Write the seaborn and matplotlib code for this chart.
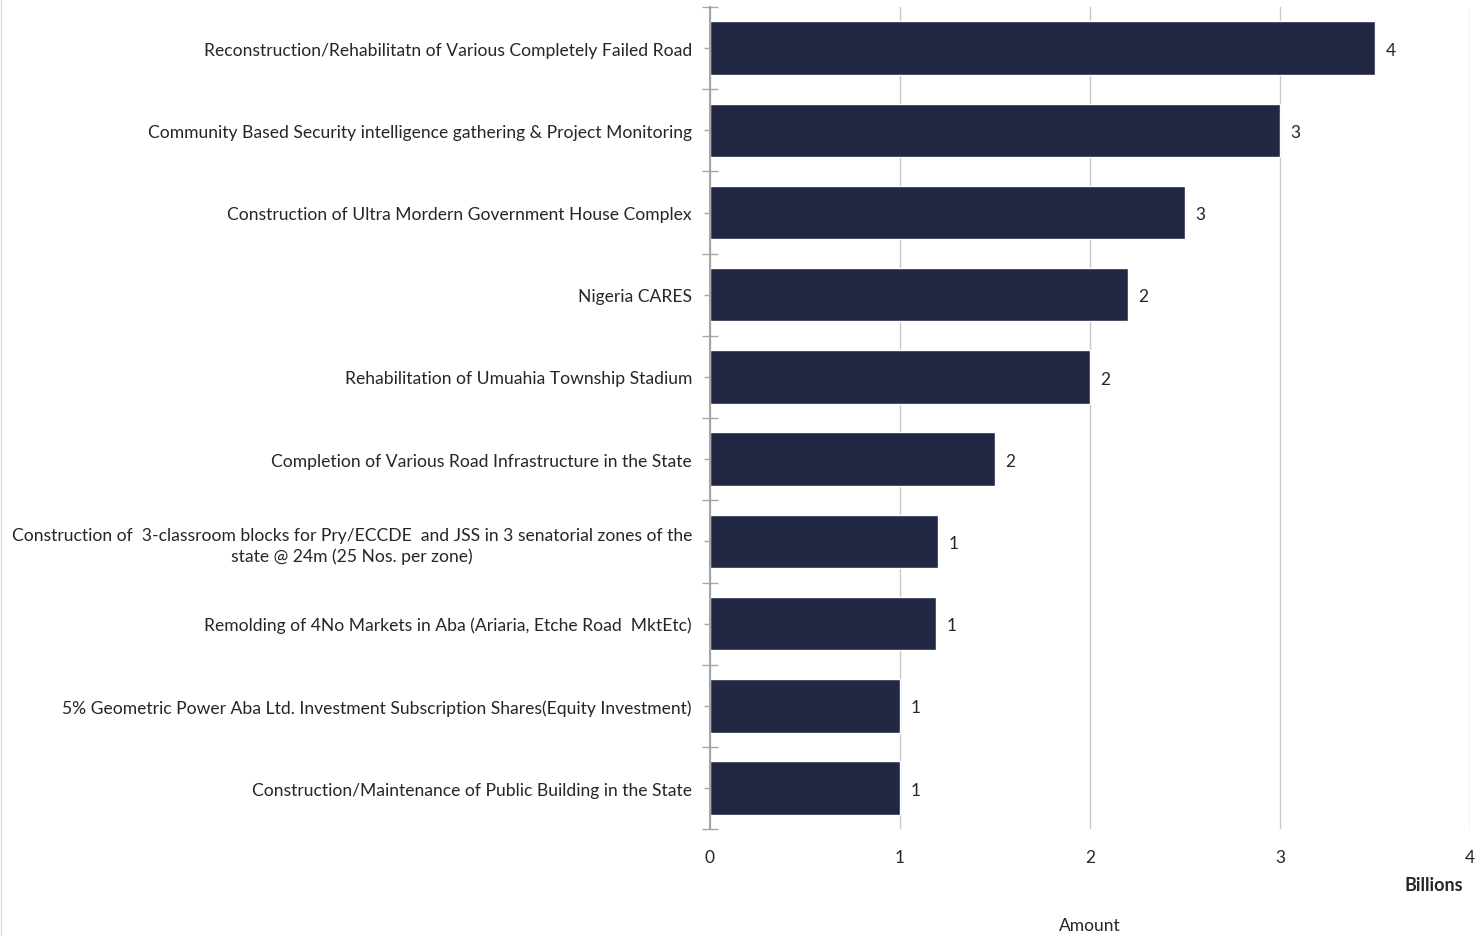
import numpy as np
import pandas as pd
import matplotlib
matplotlib.use("Agg")
import matplotlib.pyplot as plt
import seaborn as sns

sns.set_style("white")
plt.rcParams['font.family'] = ['Lato', 'DejaVu Sans']

# data (billions)
projects = [
    "Reconstruction/Rehabilitatn of Various Completely Failed Road",
    "Community Based Security intelligence gathering & Project Monitoring",
    "Construction of Ultra Mordern Government House Complex",
    "Nigeria CARES",
    "Rehabilitation of Umuahia Township Stadium",
    "Completion of Various Road Infrastructure in the State",
    "Construction of  3-classroom blocks for Pry/ECCDE  and JSS in 3 senatorial zones of the\nstate @ 24m (25 Nos. per zone)",
    "Remolding of 4No Markets in Aba (Ariaria, Etche Road  MktEtc)",
    "5% Geometric Power Aba Ltd. Investment Subscription Shares(Equity Investment)",
    "Construction/Maintenance of Public Building in the State",
]
amounts = [3.5, 3.0, 2.5, 2.2, 2.0, 1.5, 1.2, 1.19, 1.0, 1.0]
xticks = [0, 1, 2, 3, 4]

df = pd.DataFrame({"project": projects, "amount": amounts})

fig = plt.figure(figsize=(14.77, 9.37), dpi=100)
ax = fig.add_axes([0.4807, 0.114, 0.5146, 0.8775])

sns.barplot(data=df, y="project", x="amount", orient="h", color="#222743",
            width=0.65, saturation=1, ax=ax)

ax.set_xlim(0, 4)
ax.set_ylim(len(projects) - 0.5, -0.5)
ax.set_xticks(xticks)
ax.set_xticklabels([str(t) for t in xticks], fontsize=12.5)
ax.grid(axis="x", color="#c8c8c8", linewidth=1)
ax.set_axisbelow(True)

for s in ["top", "right", "bottom"]:
    ax.spines[s].set_visible(False)
ax.spines["left"].set_color("#a6a6a6")
ax.spines["left"].set_linewidth(1.5)

ax.tick_params(axis="x", length=0, pad=14)
ax.tick_params(axis="y", which="major", left=True, length=4, color="#a6a6a6", width=1,
               labelsize=12.6, pad=9)
ax.set_yticks(np.arange(-0.5, len(projects), 1), minor=True)
ax.tick_params(axis="y", which="minor", left=True, length=11, direction="inout",
               color="#a6a6a6", width=1)
for lbl in ax.get_yticklabels():
    lbl.set_multialignment("center")
    lbl.set_linespacing(1.35)

for i, v in enumerate(amounts):
    ax.text(v + 0.055, i + 0.02, f"{int(np.floor(v + 0.5))}", va="center", ha="left", fontsize=12.5)

ax.set_ylabel("")
ax.set_xlabel("")
fig.text(1090 / 1477, 1 - 926 / 937, "Amount", ha="center", va="center", fontsize=12.5)
fig.text(1463 / 1477, 1 - 886 / 937, "Billions", ha="right", va="center", fontsize=13, fontweight="bold")

# faint chart border on the left
fig.add_artist(plt.Line2D([0.0008, 0.0008], [0, 1], color="#d9d9d9", linewidth=1))

fig.savefig("out.png", dpi=100)
